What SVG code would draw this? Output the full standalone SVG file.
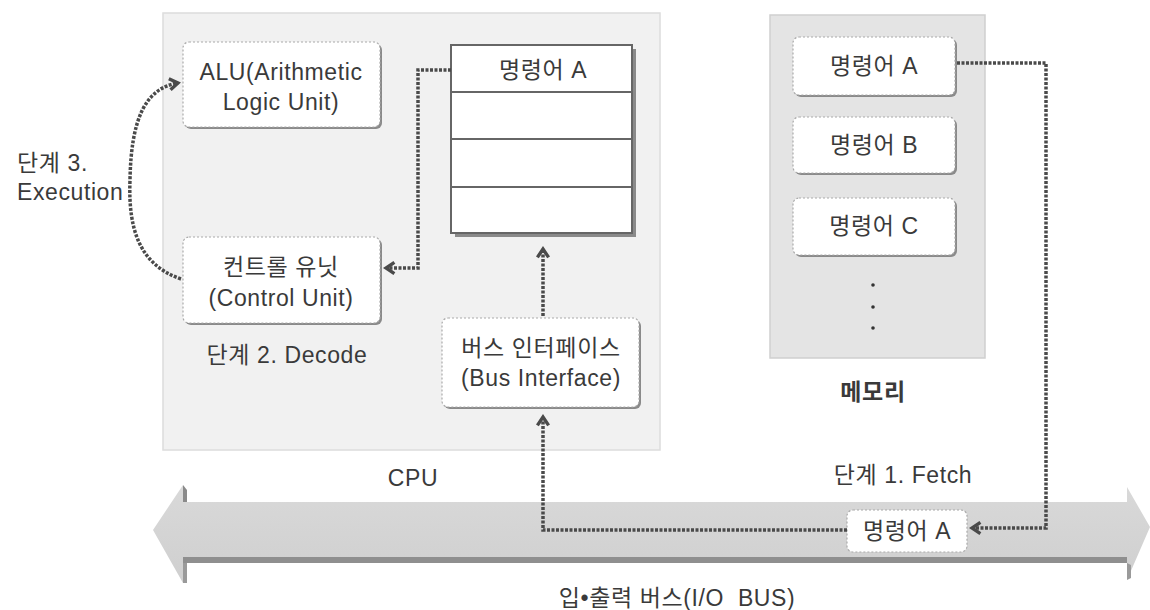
<svg xmlns="http://www.w3.org/2000/svg" width="1150" height="610" viewBox="0 0 1150 610">
<defs>
<style>
text{font-family:"Liberation Sans","Noto Sans CJK KR",sans-serif;fill:#3a3a3a;font-size:23px;letter-spacing:0.6px;text-anchor:middle;}
.node{fill:#fff;stroke:#aaa;stroke-width:1.2;stroke-dasharray:2 2;}
.shadow{fill:#8a8a8a;}
.conn{fill:none;stroke:#4a4a4a;stroke-width:3.5;stroke-dasharray:3 1.5;}
.reg{fill:#fff;stroke:#666;stroke-width:2;}
</style>
<marker id="arr" viewBox="0 0 10 10" refX="8" refY="5" markerWidth="4" markerHeight="4" orient="auto" markerUnits="strokeWidth">
<path d="M2 1 L8 5 L2 9" fill="none" stroke="#4a4a4a" stroke-width="2.4"/>
</marker>
<linearGradient id="busg" x1="0" y1="0" x2="0" y2="1">
<stop offset="0" stop-color="#d9d9d9"/>
<stop offset="1" stop-color="#cfcfcf"/>
</linearGradient>
</defs>
<rect width="1150" height="610" fill="#fff"/>

<!-- CPU container -->
<g id="cpu">
<rect x="163" y="13" width="497" height="437" fill="#f1f1f1" stroke="#dcdcdc" stroke-width="1.5"/>
<text x="413" y="486">CPU</text>
</g>

<!-- Memory container -->
<g id="memory">
<rect x="770" y="15" width="215" height="343" fill="#e4e4e4" stroke="#cfcfcf" stroke-width="1.5"/>
<circle cx="873" cy="285" r="1.8" fill="#333"/>
<circle cx="873" cy="307" r="1.8" fill="#333"/>
<circle cx="873" cy="328" r="1.8" fill="#333"/>
<text x="873" y="400" font-weight="bold">메모리</text>
</g>

<!-- I/O bus -->
<g id="iobus">
<polygon points="153,530 183,485 183,502 1127,502 1127,487 1150,527 1127,580 1127,563 183,563 183,583" fill="url(#busg)"/>
<rect x="183" y="557" width="944" height="6" fill="#8f8f8f"/>
<polygon points="183,485 187,490 187,502 183,502" fill="#8a8a8a"/>
<polygon points="183,563 187,563 187,583 183,583" fill="#9a9a9a"/>
<polygon points="1127,563 1131,565 1131,578 1127,580" fill="#9a9a9a"/>
<text x="677" y="606">입•출력 버스(I/O&#160; BUS)</text>
</g>

<!-- ALU -->
<g id="alu">
<rect class="shadow" x="185" y="44" width="197" height="85" rx="6"/>
<rect class="node" x="183" y="42" width="197" height="85" rx="6"/>
<text x="281" y="80">ALU(Arithmetic</text>
<text x="281" y="110">Logic Unit)</text>
</g>

<!-- Control Unit -->
<g id="control-unit">
<rect class="shadow" x="185" y="239" width="197" height="86" rx="6"/>
<rect class="node" x="183" y="237" width="197" height="86" rx="6"/>
<text x="281" y="275">컨트롤 유닛</text>
<text x="281" y="306">(Control Unit)</text>
<text x="287" y="363">단계 2. Decode</text>
</g>

<!-- Register stack -->
<g id="registers">
<rect x="455" y="49" width="181" height="188" fill="#8a8a8a"/>
<rect class="reg" x="451" y="45" width="181" height="188"/>
<line x1="451" y1="92" x2="632" y2="92" stroke="#666" stroke-width="2"/>
<line x1="451" y1="139" x2="632" y2="139" stroke="#666" stroke-width="2"/>
<line x1="451" y1="187" x2="632" y2="187" stroke="#666" stroke-width="2"/>
<text x="543" y="78">명령어 A</text>
</g>

<!-- Bus interface -->
<g id="bus-interface">
<rect class="shadow" x="444" y="320" width="197" height="89" rx="6"/>
<rect class="node" x="442" y="318" width="197" height="89" rx="6"/>
<text x="541" y="356">버스 인터페이스</text>
<text x="541" y="386">(Bus Interface)</text>
</g>

<!-- Memory instructions -->
<g id="mem-a">
<rect class="shadow" x="795" y="39" width="162" height="58" rx="6"/>
<rect class="node" x="793" y="37" width="162" height="58" rx="6"/>
<text x="874" y="74">명령어 A</text>
</g>
<g id="mem-b">
<rect class="shadow" x="795" y="119" width="162" height="56" rx="6"/>
<rect class="node" x="793" y="117" width="162" height="56" rx="6"/>
<text x="874" y="153">명령어 B</text>
</g>
<g id="mem-c">
<rect class="shadow" x="795" y="200" width="162" height="57" rx="6"/>
<rect class="node" x="793" y="198" width="162" height="57" rx="6"/>
<text x="874" y="234">명령어 C</text>
</g>

<!-- Bus instruction -->
<g id="bus-inst">
<rect x="847" y="510" width="120" height="42" rx="6" fill="#fff" stroke="#aaa" stroke-width="1.2" stroke-dasharray="2 2"/>
<text x="907" y="539">명령어 A</text>
</g>

<!-- Labels -->
<g id="labels">
<text x="17" y="171" style="text-anchor:start">단계 3.</text>
<text x="17" y="200" style="text-anchor:start">Execution</text>
<text x="903" y="483">단계 1. Fetch</text>
</g>

<!-- Connectors -->
<g id="connectors">
<path class="conn" d="M181 279 C140 265 128 230 130 180 C131 120 145 88 178 83" marker-end="url(#arr)"/>
<path class="conn" d="M451 70 L418 70 L418 268 L386 268" marker-end="url(#arr)"/>
<path class="conn" d="M543 316 L543 249" marker-end="url(#arr)"/>
<path class="conn" d="M847 530 L543 530 L543 417" marker-end="url(#arr)"/>
<path class="conn" d="M957 63 L1046 63 L1046 528 L972 528" marker-end="url(#arr)"/>
</g>
</svg>
